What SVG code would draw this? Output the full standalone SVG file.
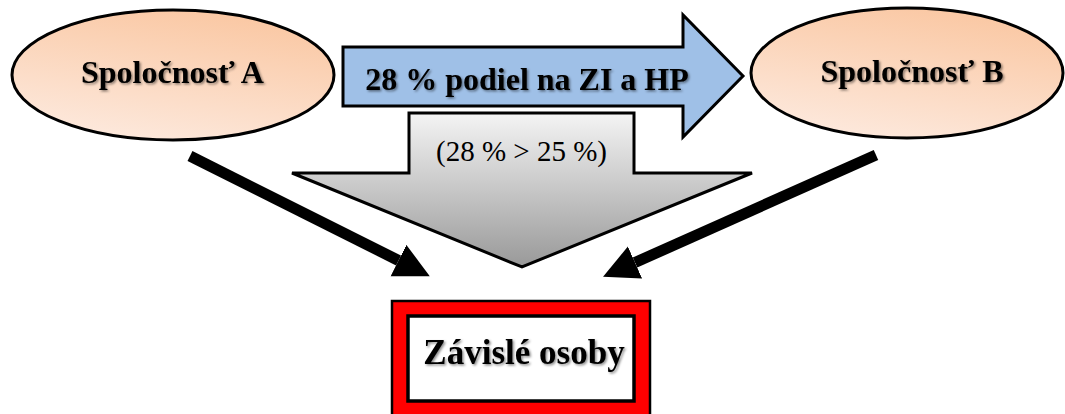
<svg xmlns="http://www.w3.org/2000/svg" width="1065" height="414" viewBox="0 0 1065 414">
<style>
.b{font-family:"Liberation Serif","Times New Roman",serif;font-weight:bold;text-anchor:middle;fill:#000}
.r{font-family:"Liberation Serif","Times New Roman",serif;text-anchor:middle;fill:#000}
.sh{filter:url(#shadow)}
</style>
<defs>
<linearGradient id="peach" x1="0.3" y1="1" x2="0.7" y2="0">
<stop offset="0" stop-color="#fde9dd"/>
<stop offset="1" stop-color="#fac7a2"/>
</linearGradient>
<linearGradient id="gray" x1="0" y1="0" x2="0" y2="1">
<stop offset="0" stop-color="#f4f4f4"/>
<stop offset="1" stop-color="#999999"/>
</linearGradient>
<filter id="shadow" x="-10%" y="-30%" width="120%" height="160%">
<feDropShadow dx="1.5" dy="1.5" stdDeviation="1" flood-color="#000" flood-opacity="0.45"/>
</filter>
<marker id="head" markerUnits="userSpaceOnUse" markerWidth="36" markerHeight="36" refX="0" refY="17.5" orient="auto" viewBox="0 0 36 36">
<path d="M0,0 L35,17.5 L0,35 z" fill="#000"/>
</marker>
</defs>
<g id="companyA">
<ellipse cx="173" cy="75" rx="161" ry="65" fill="url(#peach)" stroke="#000" stroke-width="3"/>
<text class="b sh" x="172.5" y="83" font-size="32">Spoločnosť A</text>
</g>
<g id="companyB">
<ellipse cx="907" cy="73" rx="156" ry="65" fill="url(#peach)" stroke="#000" stroke-width="3"/>
<text class="b sh" x="912" y="82" font-size="32">Spoločnosť B</text>
</g>
<g id="shareArrow">
<path d="M343,47 L683,47 L683,15 L743,76 L683,137 L683,106 L343,106 z" fill="#9fc0e7" stroke="#000" stroke-width="3" stroke-linejoin="miter"/>
<text class="b sh" x="527" y="90" font-size="32">28 % podiel na ZI a HP</text>
</g>
<g id="conditionArrow">
<path d="M409,113 L634,113 L634,173 L752,173 L522,267 L292,173 L409,173 z" fill="url(#gray)" stroke="#000" stroke-width="3"/>
<text class="r" x="521.5" y="161" font-size="29">(28 % &gt; 25 %)</text>
</g>
<g id="dependent">
<rect x="392" y="301" width="258" height="130" fill="#ff0000" stroke="#000" stroke-width="2.5"/>
<rect x="408" y="316" width="226" height="85" fill="#fff" stroke="#000" stroke-width="3.5"/>
<text class="b sh" x="524" y="364" font-size="35">Závislé osoby</text>
</g>
<g id="connectors" stroke="#000" stroke-width="11" fill="none">
<line x1="190" y1="156" x2="398.5" y2="260.5" marker-end="url(#head)"/>
<line x1="876" y1="155" x2="635" y2="262.5" marker-end="url(#head)"/>
</g>
</svg>
